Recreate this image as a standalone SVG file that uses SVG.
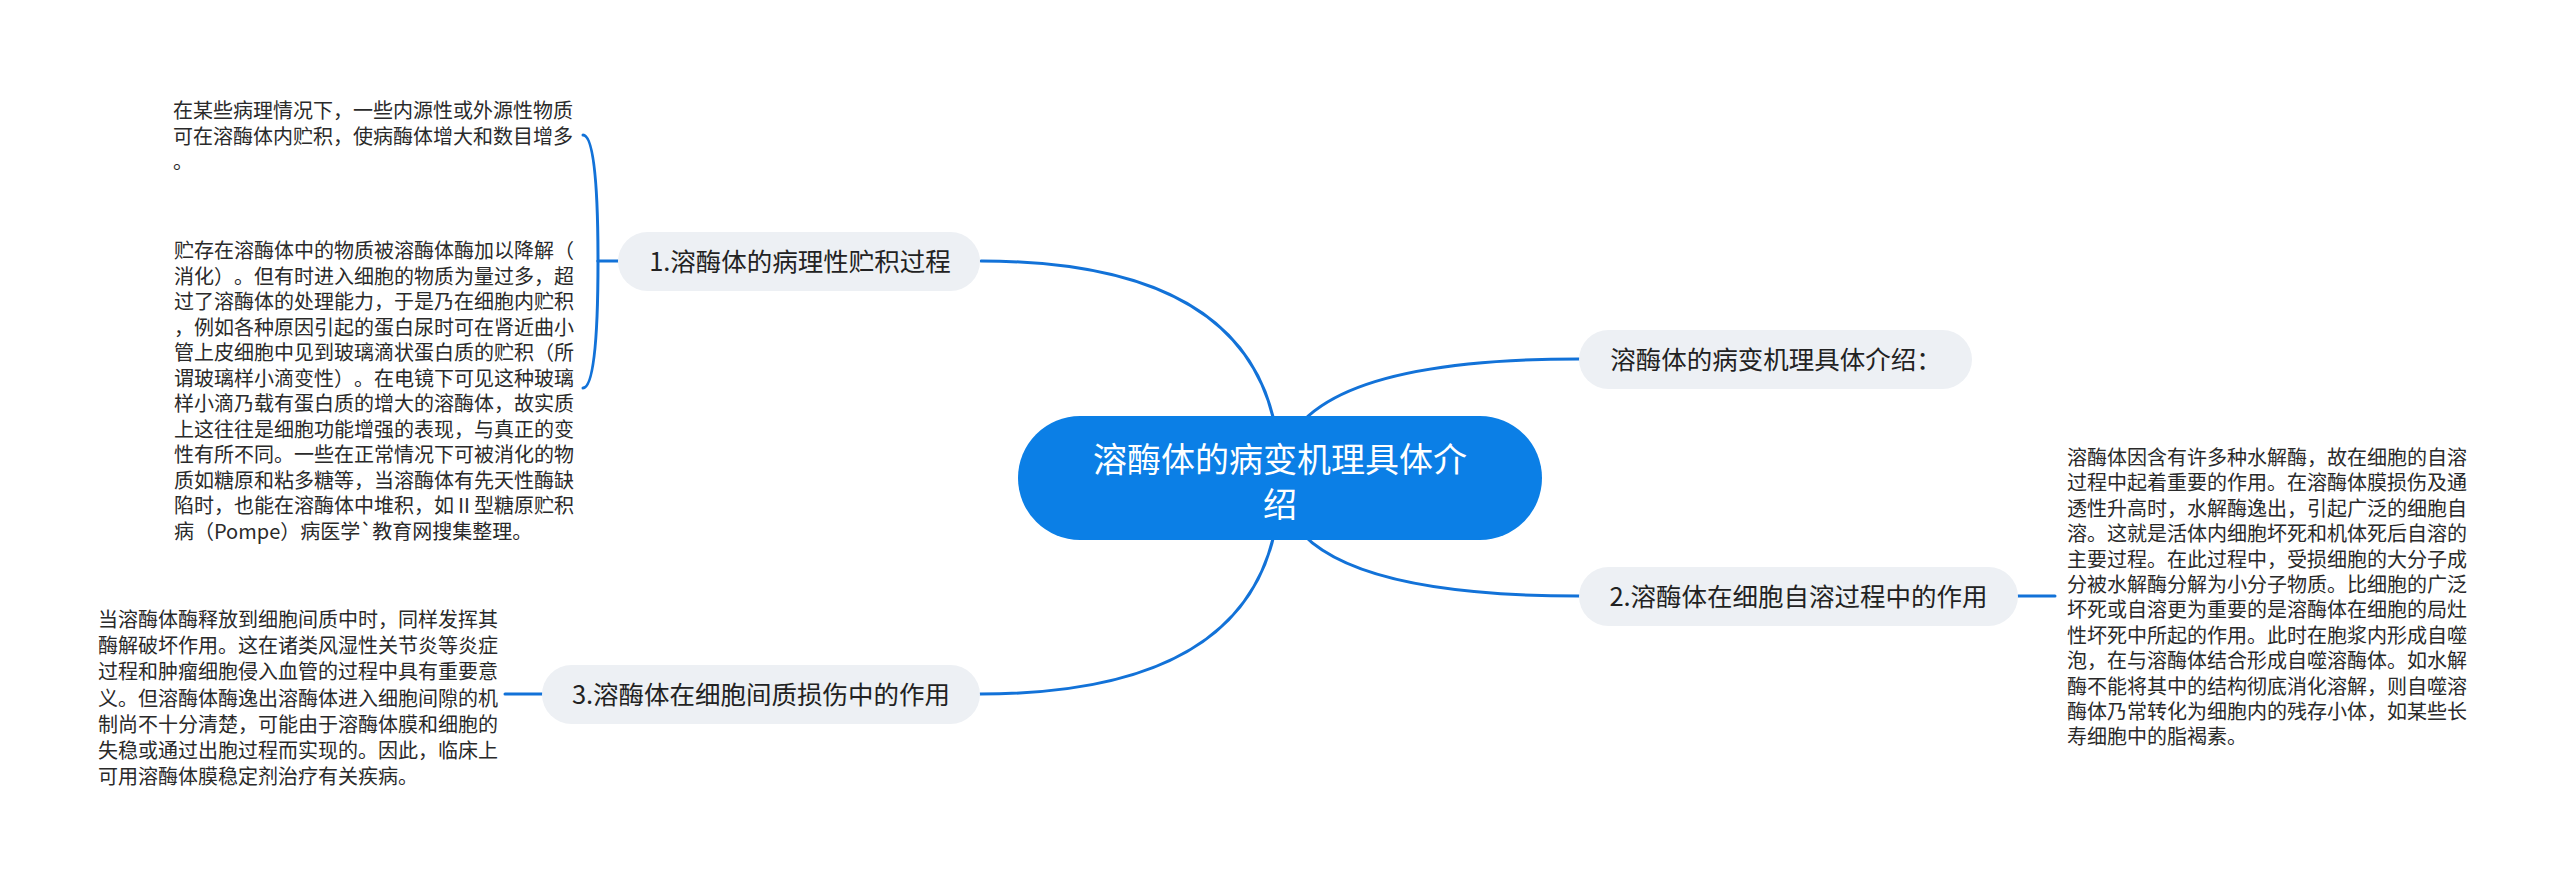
<svg xmlns="http://www.w3.org/2000/svg" width="2560" height="880" viewBox="0 0 2560 880">
  <style>
    .conn { fill: none; stroke: #1272d8; stroke-width: 3; stroke-linecap: round; }
    .branch { fill: #edf0f4; }
    .btext { font-family: "Noto Sans CJK SC", "Liberation Sans", sans-serif; font-size: 25.5px; fill: #222; text-anchor: middle; }
    .para { font-family: "Noto Sans CJK SC", "Liberation Sans", sans-serif; font-size: 20px; fill: #2a2a2a; text-spacing-trim: space-all; }
    .root { fill: #0b7fe6; }
    .rtext { font-family: "Noto Sans CJK SC", "Liberation Sans", sans-serif; font-size: 34px; fill: #ffffff; text-anchor: middle; }
  </style>
  <rect width="2560" height="880" fill="#ffffff"/>

  <g id="connectors">
    <path class="conn" d="M1280,478 Q1280,261 981,261"/>
    <path class="conn" d="M1280,478 Q1280,359 1579,359"/>
    <path class="conn" d="M1280,478 Q1280,596 1579,596"/>
    <path class="conn" d="M1280,478 Q1280,694 980,694"/>
    <path class="conn" d="M618,261 L598,261"/>
    <path class="conn" d="M598,261 Q598,135 583,135"/>
    <path class="conn" d="M598,261 Q598,388 583,388"/>
    <path class="conn" d="M2018,596 L2055,596"/>
    <path class="conn" d="M542,694 L505,694"/>
  </g>

  <g id="root">
    <rect class="root" x="1018" y="416" width="524" height="124" rx="62"/>
    <text class="rtext"><tspan x="1280" y="472">溶酶体的病变机理具体介</tspan><tspan x="1280" y="517">绍</tspan></text>
  </g>

  <g id="node-intro">
    <rect class="branch" x="1579" y="330" width="393" height="59" rx="29.5"/>
    <text class="btext" x="1776" y="369">溶酶体的病变机理具体介绍：</text>
  </g>

  <g id="node-1">
    <rect class="branch" x="618" y="232" width="362" height="59" rx="29.5"/>
    <text class="btext" x="800" y="271">1.溶酶体的病理性贮积过程</text>
  </g>

  <g id="node-2">
    <rect class="branch" x="1579" y="567" width="439" height="59" rx="29.5"/>
    <text class="btext" x="1798.5" y="606">2.溶酶体在细胞自溶过程中的作用</text>
  </g>

  <g id="node-3">
    <rect class="branch" x="542" y="665" width="438" height="59" rx="29.5"/>
    <text class="btext" x="761" y="704">3.溶酶体在细胞间质损伤中的作用</text>
  </g>

  <g id="text-1a">
    <text class="para">
      <tspan x="173" y="118">在某些病理情况下，一些内源性或外源性物质</tspan>
      <tspan x="173" y="143.5">可在溶酶体内贮积，使病酶体增大和数目增多</tspan>
      <tspan x="173" y="169">。</tspan>
    </text>
  </g>

  <g id="text-1b">
    <text class="para">
      <tspan x="174" y="258">贮存在溶酶体中的物质被溶酶体酶加以降解（</tspan>
      <tspan x="174" y="283.5">消化）。但有时进入细胞的物质为量过多，超</tspan>
      <tspan x="174" y="309">过了溶酶体的处理能力，于是乃在细胞内贮积</tspan>
      <tspan x="174" y="334.5">，例如各种原因引起的蛋白尿时可在肾近曲小</tspan>
      <tspan x="174" y="360">管上皮细胞中见到玻璃滴状蛋白质的贮积（所</tspan>
      <tspan x="174" y="385.5">谓玻璃样小滴变性）。在电镜下可见这种玻璃</tspan>
      <tspan x="174" y="411">样小滴乃载有蛋白质的增大的溶酶体，故实质</tspan>
      <tspan x="174" y="436.5">上这往往是细胞功能增强的表现，与真正的变</tspan>
      <tspan x="174" y="462">性有所不同。一些在正常情况下可被消化的物</tspan>
      <tspan x="174" y="487.5">质如糖原和粘多糖等，当溶酶体有先天性酶缺</tspan>
      <tspan x="174" y="513">陷时，也能在溶酶体中堆积，如Ⅱ型糖原贮积</tspan>
      <tspan x="174" y="538.5">病（Pompe）病医学`教育网搜集整理。</tspan>
    </text>
  </g>

  <g id="text-2">
    <text class="para">
      <tspan x="2067" y="465">溶酶体因含有许多种水解酶，故在细胞的自溶</tspan>
      <tspan x="2067" y="490.4">过程中起着重要的作用。在溶酶体膜损伤及通</tspan>
      <tspan x="2067" y="515.8">透性升高时，水解酶逸出，引起广泛的细胞自</tspan>
      <tspan x="2067" y="541.2">溶。这就是活体内细胞坏死和机体死后自溶的</tspan>
      <tspan x="2067" y="566.6">主要过程。在此过程中，受损细胞的大分子成</tspan>
      <tspan x="2067" y="592">分被水解酶分解为小分子物质。比细胞的广泛</tspan>
      <tspan x="2067" y="617.4">坏死或自溶更为重要的是溶酶体在细胞的局灶</tspan>
      <tspan x="2067" y="642.8">性坏死中所起的作用。此时在胞浆内形成自噬</tspan>
      <tspan x="2067" y="668.2">泡，在与溶酶体结合形成自噬溶酶体。如水解</tspan>
      <tspan x="2067" y="693.6">酶不能将其中的结构彻底消化溶解，则自噬溶</tspan>
      <tspan x="2067" y="719">酶体乃常转化为细胞内的残存小体，如某些长</tspan>
      <tspan x="2067" y="744.4">寿细胞中的脂褐素。</tspan>
    </text>
  </g>

  <g id="text-3">
    <text class="para">
      <tspan x="98" y="627">当溶酶体酶释放到细胞间质中时，同样发挥其</tspan>
      <tspan x="98" y="653.2">酶解破坏作用。这在诸类风湿性关节炎等炎症</tspan>
      <tspan x="98" y="679.4">过程和肿瘤细胞侵入血管的过程中具有重要意</tspan>
      <tspan x="98" y="705.6">义。但溶酶体酶逸出溶酶体进入细胞间隙的机</tspan>
      <tspan x="98" y="731.8">制尚不十分清楚，可能由于溶酶体膜和细胞的</tspan>
      <tspan x="98" y="758">失稳或通过出胞过程而实现的。因此，临床上</tspan>
      <tspan x="98" y="784.2">可用溶酶体膜稳定剂治疗有关疾病。</tspan>
    </text>
  </g>
</svg>
